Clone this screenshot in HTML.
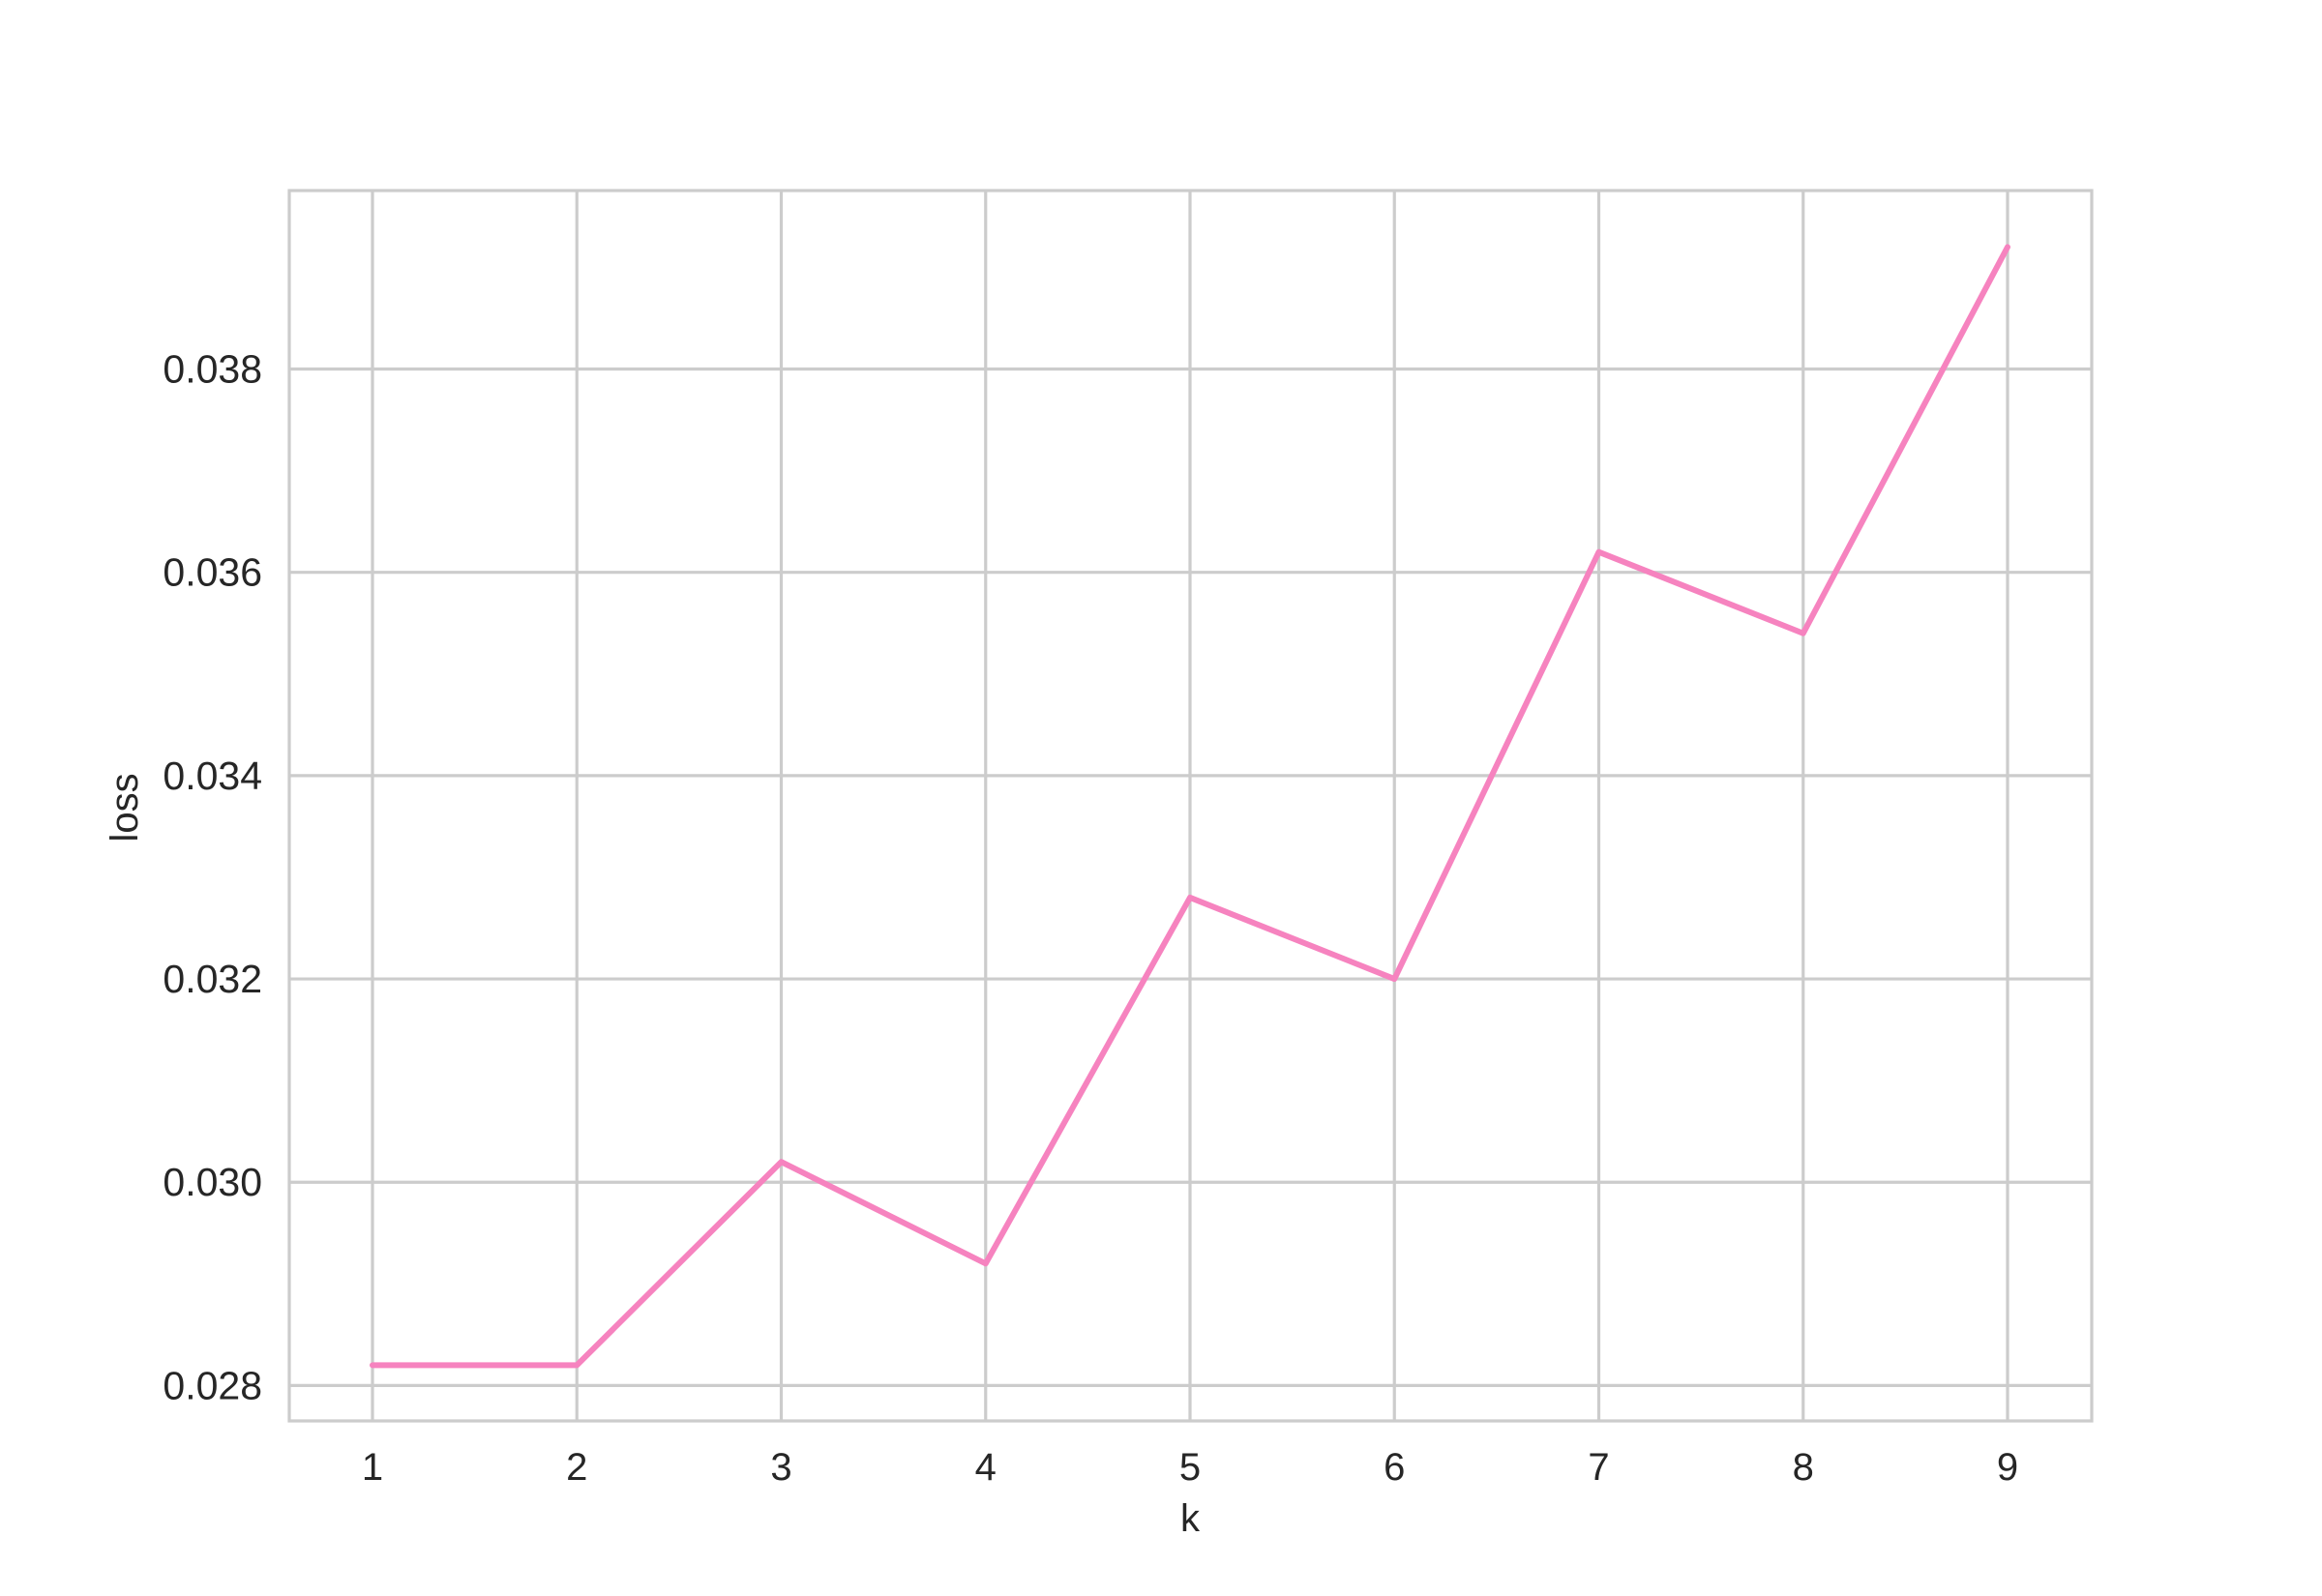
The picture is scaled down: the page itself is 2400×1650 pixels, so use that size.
<!DOCTYPE html>
<html><head><meta charset="utf-8"><style>
html,body{margin:0;padding:0;background:#fff;}
svg{display:block;font-family:"Liberation Sans",Arial,sans-serif;}
</style></head><body>
<svg id="chart" width="2400" height="1650" viewBox="0 0 2400 1650" xmlns="http://www.w3.org/2000/svg">
<rect width="2400" height="1650" fill="#fff"/>
<g id="grid"></g>
<g id="ticks"></g>
<g id="series"></g>
<rect x="299" y="197" width="1863" height="1272" fill="none" stroke="#cccccc" stroke-width="3.2"/>
<text x="1230" y="1583" font-size="40" fill="#262626" text-anchor="middle">k</text>
<text transform="translate(142,835) rotate(-90)" font-size="40" fill="#262626" text-anchor="middle">loss</text>
</svg>
<script>
const categories = [1,2,3,4,5,6,7,8,9];
const lossValues = [0.0282,0.0282,0.0302,0.0292,0.0328,0.0320,0.0362,0.0354,0.0392];
const yTicks = [0.028,0.030,0.032,0.034,0.036,0.038];
const yTickLabels = ["0.028","0.030","0.032","0.034","0.036","0.038"];
const NS="http://www.w3.org/2000/svg";
function xScale(k){return 385+(k-1)*(2075-385)/8;}
function yScale(v){return 1432.4-(v-0.028)*(1432.4-381.5)/0.010;}
const grid=document.getElementById('grid'),ticks=document.getElementById('ticks'),series=document.getElementById('series');
function mk(t,a){const e=document.createElementNS(NS,t);for(const k in a)e.setAttribute(k,a[k]);return e;}
categories.forEach(k=>{
  const x=xScale(k);
  const l=mk('line',{x1:x,x2:x,y1:197,y2:1469,stroke:'#cccccc','stroke-width':3.2});
  
  
  grid.appendChild(l);
  const t=mk('text',{x:x,y:1530,'font-size':40,fill:'#262626','text-anchor':'middle'});
  
  
  t.textContent=String(k);ticks.appendChild(t);
});
yTicks.forEach((v,i)=>{
  const y=yScale(v);
  const l=mk('line',{x1:299,x2:2162,y1:y,y2:y,stroke:'#cccccc','stroke-width':3.2});
  
  
  grid.appendChild(l);
  const t=mk('text',{x:271,y:y+14,'font-size':41,fill:'#262626','text-anchor':'end'});
  
  
  t.textContent=yTickLabels[i];ticks.appendChild(t);
});
const pts=categories.map((k,i)=>xScale(k)+','+yScale(lossValues[i])).join(' ');
const pl=mk('polyline',{points:pts,fill:'none',stroke:'#f683bf','stroke-width':6,'stroke-linecap':'round','stroke-linejoin':'round'});


series.appendChild(pl);
</script>
</body></html>
